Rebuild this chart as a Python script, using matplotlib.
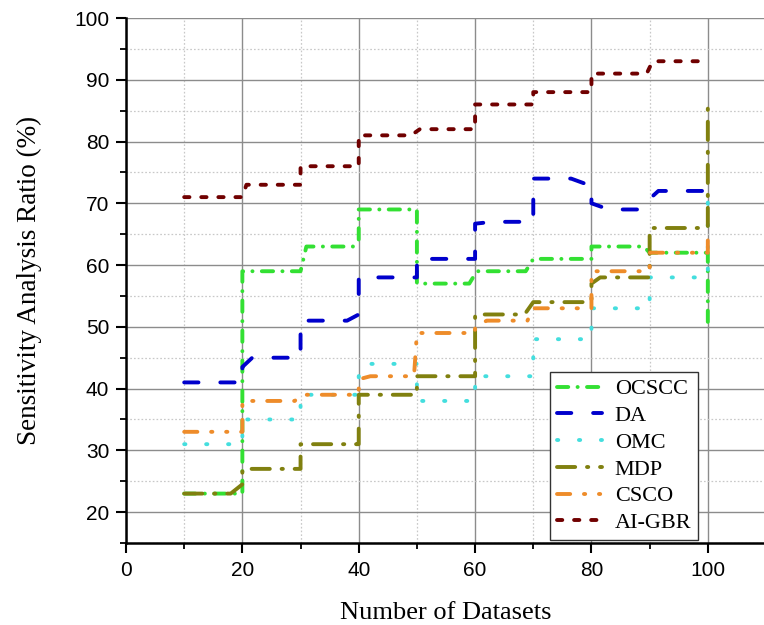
import matplotlib
matplotlib.use("Agg")
import matplotlib.pyplot as plt
from matplotlib.ticker import FixedLocator

plt.rcParams['lines.scale_dashes'] = False

# ---- data (vertices) ----
ocscc_x = [10, 20, 20, 30, 31, 39, 40, 40, 50, 50, 59, 60.3, 68.7, 70, 80, 80, 89, 90, 100, 100]
ocscc_y = [23, 23, 59, 59, 63, 63, 64, 69, 69, 57, 57, 59, 59, 61, 61, 63, 63, 62, 62, 50]

da_x = [10, 20, 20, 21.7, 30, 30, 38, 40, 40, 50, 50, 60, 60, 63, 70, 70, 76.5, 80, 80, 83, 88, 91.5, 100]
da_y = [41, 41, 43.5, 45, 45, 51, 51, 52, 58, 58, 61, 61, 66.7, 67, 67, 74, 74, 72.8, 70, 69, 69, 72, 72]

omc_x = [10, 20, 20, 30, 30, 40, 40, 41.5, 50, 50, 60, 60, 70, 70, 80, 80, 90, 90, 100, 100]
omc_y = [31, 31, 35, 35, 39, 39, 43, 44, 44, 38, 38, 42, 42, 48, 48, 53, 53, 58, 58, 73]

mdp_x = [10, 18, 20, 20, 30, 30, 40, 40, 50, 50, 60, 60, 68.5, 70, 80, 80, 81.5, 90, 90, 100, 100]
mdp_y = [23, 23, 24.5, 27, 27, 31, 31, 39, 39, 42, 42, 52, 52, 54, 54, 57, 58, 58, 66, 66, 87]

csco_x = [10, 20, 20, 29, 30.2, 40, 40, 42, 49.5, 50, 60, 60, 62, 69, 70, 80, 80, 90, 90, 100, 100]
csco_y = [33, 33, 38, 38, 39, 39, 41.5, 42, 42, 49, 49, 50, 51, 51, 53, 53, 59, 59, 62, 62, 64]

aigbr_x = [10, 20, 20.7, 30, 30, 40, 40, 49, 50.5, 60, 60, 70, 70, 80, 80, 89.5, 90.5, 100]
aigbr_y = [71, 71, 73, 73, 76, 76, 81, 81, 82, 82, 86, 86, 88, 88, 91, 91, 93, 93]

labels = ["OCSCC", "DA", "OMC", "MDP", "CSCO", "AI-GBR"]
xticks = [0, 20, 40, 60, 80, 100]
yticks = [20, 30, 40, 50, 60, 70, 80, 90, 100]

# ---- figure ----
fig = plt.figure(figsize=(7.64, 6.25), dpi=100)
ax = fig.add_axes([126/764, 82/625, 640/764, 525/625])

lw = 2.8
styles = [
    dict(color='#33e033', dashes=(8.1, 6.7, 0.1, 6.7)),
    dict(color='#0000cc', dashes=(10.3, 15.7)),
    dict(color='#44dede', dashes=(0.9, 14.9)),
    dict(color='#80800f', dashes=(13.1, 8.5, 0.9, 8.5)),
    dict(color='#ee8c2a', dashes=(9.5, 9.9, 0.9, 9.9, 0.9, 9.9)),
    dict(color='#700000', dashes=(3.8, 8.5)),
]
series = [(ocscc_x, ocscc_y), (da_x, da_y), (omc_x, omc_y),
          (mdp_x, mdp_y), (csco_x, csco_y), (aigbr_x, aigbr_y)]

for (xs, ys), lab, st in zip(series, labels, styles):
    ax.plot(xs, ys, lw=lw, label=lab, color=st['color'], dashes=st['dashes'],
            dash_capstyle='round', solid_capstyle='round', zorder=3)

ax.set_xlim(0, 110)
ax.set_ylim(15, 100)
ax.xaxis.set_major_locator(FixedLocator(xticks))
ax.xaxis.set_minor_locator(FixedLocator([10, 30, 50, 70, 90]))
ax.yaxis.set_major_locator(FixedLocator(yticks))
ax.yaxis.set_minor_locator(FixedLocator([15, 25, 35, 45, 55, 65, 75, 85, 95]))

ax.grid(which='major', color='#8c8c8c', linewidth=1.0, linestyle='-', zorder=0)
ax.grid(which='minor', color='#c8c8c8', linewidth=0.9, linestyle=(0, (1.2, 1.5)), zorder=0)
ax.set_axisbelow(True)

for s in ['top', 'right']:
    ax.spines[s].set_visible(False)
for s in ['left', 'bottom']:
    ax.spines[s].set_linewidth(1.8)
    ax.spines[s].set_color('black')

ax.tick_params(which='major', direction='out', length=7, width=1.5, pad=5,
               labelsize=15, colors='black')
ax.tick_params(which='minor', direction='out', length=4, width=1.3)
ax.tick_params(axis='x', which='major', pad=6)
for t in ax.get_xticklabels() + ax.get_yticklabels():
    t.set_fontfamily('Liberation Sans')

ax.set_xlabel("Number of Datasets", fontsize=19, family='Liberation Serif', labelpad=16)
ax.set_ylabel("Sensitivity Analysis Ratio (%)", fontsize=19.5, family='Liberation Serif', labelpad=23)

leg = ax.legend(loc='lower right', bbox_to_anchor=(0.894, 0.006), borderaxespad=0,
                fancybox=False, framealpha=1, edgecolor='#333333',
                prop={'family': 'Liberation Serif', 'size': 16},
                handlelength=2.0, handletextpad=0.6, labelspacing=0.28, borderpad=0.3)
leg.get_frame().set_linewidth(1.0)

fig.savefig("out.png", dpi=100)
